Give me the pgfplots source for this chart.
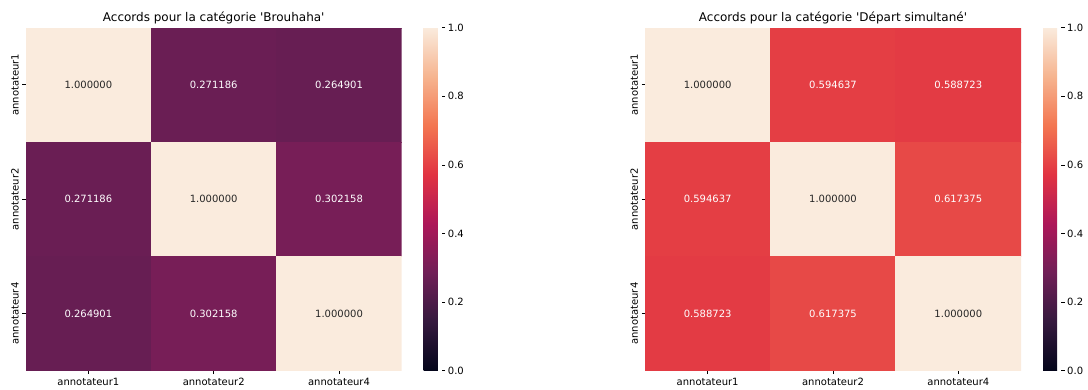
\documentclass[border=0pt]{standalone}
\usepackage{fontspec}
\setmainfont{DejaVu Sans}
\usepackage{pgfplots}
\pgfplotsset{compat=1.18}
\pgfplotsset{
  colorbar shift/.style={},
  colormap={rocket}{rgb255(0)=(3,5,26) rgb255(1)=(53,25,62) rgb255(2)=(112,31,87) rgb255(3)=(173,23,89) rgb255(4)=(225,51,66) rgb255(5)=(243,118,81) rgb255(6)=(246,180,143) rgb255(7)=(250,235,221)},
  hm/.style={
    anchor=south west, scale only axis, width=376bp, height=343bp,
    xmin=-0.5, xmax=2.5, ymin=-0.5, ymax=2.5, y dir=reverse,
    enlargelimits=false,
    axis line style={draw=none},
    xtick={0,1,2}, ytick={0,1,2},
    xticklabels={annotateur1,annotateur2,annotateur4},
    yticklabels={annotateur1,annotateur2,annotateur4},
    yticklabel style={rotate=90, anchor=south},
    tick label style={font=\fontsize{10bp}{12bp}\selectfont, text=black},
    tick align=outside, xtick pos=bottom, ytick pos=left,
    major tick length=3.5bp, tick style={black, line width=0.8bp},
    colormap name=rocket, point meta min=0, point meta max=1,
    title style={font=\fontsize{12bp}{14bp}\selectfont, yshift=-6bp},
    colorbar,
    colorbar style={
      at={(parent axis.north east)}, anchor=north west, xshift=22bp,
      scale only axis, width=18bp, height=343bp,
      axis line style={draw=none},
      ytick={0,0.2,0.4,0.6,0.8,1.0},
      yticklabel style={/pgf/number format/.cd, fixed, fixed zerofill, precision=1, assume math mode=true},
      tick label style={font=\fontsize{10bp}{12bp}\selectfont, text=black, inner xsep=2.5bp},
      tick align=outside, ytick pos=right,
      major tick length=3.5bp, tick style={black, line width=0.8bp},
    },
  },
  lbl/.style={draw=none, mark=none, forget plot, nodes near coords, point meta=explicit symbolic,
    every node near coord/.append style={anchor=center, font=\fontsize{10bp}{12bp}\selectfont, text=#1}},
}
\definecolor{dk}{HTML}{262626}
\begin{document}
\begin{tikzpicture}
\path[use as bounding box] (0,0) rectangle (1088bp,-390bp);
\begin{axis}[hm, at={(25.7bp,-370.7bp)}, title={Accords pour la catégorie \textquotesingle Brouhaha\textquotesingle}]
\addplot[matrix plot*, mesh/cols=3, point meta=explicit] table[meta=c] {
x y c
0 0 1.000000
1 0 0.271186
2 0 0.264901
0 1 0.271186
1 1 1.000000
2 1 0.302158
0 2 0.264901
1 2 0.302158
2 2 1.000000
};
\addplot[lbl=white] table[meta=c] {
x y c
1 0 0.271186
2 0 0.264901
0 1 0.271186
2 1 0.302158
0 2 0.264901
1 2 0.302158
};
\addplot[lbl=dk] table[meta=c] {
x y c
0 0 1.000000
1 1 1.000000
2 2 1.000000
};
\end{axis}
\begin{axis}[hm, at={(645bp,-370.7bp)}, title={Accords pour la catégorie \textquotesingle Départ simultané\textquotesingle}]
\addplot[matrix plot*, mesh/cols=3, point meta=explicit] table[meta=c] {
x y c
0 0 1.000000
1 0 0.594637
2 0 0.588723
0 1 0.594637
1 1 1.000000
2 1 0.617375
0 2 0.588723
1 2 0.617375
2 2 1.000000
};
\addplot[lbl=white] table[meta=c] {
x y c
1 0 0.594637
2 0 0.588723
0 1 0.594637
2 1 0.617375
0 2 0.588723
1 2 0.617375
};
\addplot[lbl=dk] table[meta=c] {
x y c
0 0 1.000000
1 1 1.000000
2 2 1.000000
};
\end{axis}
\end{tikzpicture}
\end{document}
